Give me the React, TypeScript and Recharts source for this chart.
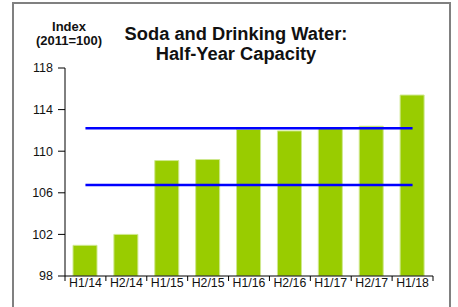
import React from 'react';
import { ComposedChart, Bar, Line, XAxis, YAxis } from 'recharts';

const periods = ['H1/14', 'H2/14', 'H1/15', 'H2/15', 'H1/16', 'H2/16', 'H1/17', 'H2/17', 'H1/18'];
const capacity = [100.95, 102.0, 109.1, 109.2, 112.1, 111.95, 112.2, 112.4, 115.4];
const upperBand = [112.2, 112.2, 112.2, 112.2, 112.2, 112.2, 112.2, 112.2, 112.2];
const lowerBand = [106.75, 106.75, 106.75, 106.75, 106.75, 106.75, 106.75, 106.75, 106.75];
const yTicks = [98, 102, 106, 110, 114, 118];

const data = periods.map((p, i) => ({
  period: p,
  capacity: capacity[i],
  upper: upperBand[i],
  lower: lowerBand[i],
}));

const W = 458;
const H = 307;
const MARGIN = { top: 68, right: 25, bottom: 6, left: 13 };
const Y_AXIS_W = 52;
const PLOT_W = W - MARGIN.left - MARGIN.right - Y_AXIS_W;
const HALF_BAND = PLOT_W / periods.length / 2;
const FONT = 'Arial, "Liberation Sans", sans-serif';

const XTick = (props: any) => {
  const { x, y, payload, index } = props;
  const last = index === periods.length - 1;
  const axisY = y - 2;
  return (
    <g>
      <line x1={x - HALF_BAND} x2={x - HALF_BAND} y1={axisY} y2={axisY + 5} stroke="#000" />
      {last && <line x1={x + HALF_BAND} x2={x + HALF_BAND} y1={axisY} y2={axisY + 5} stroke="#000" />}
      <text x={x} y={y} dy="0.71em" textAnchor="middle" fontSize={12.3} fill="#111" fontFamily={FONT}>
        {payload.value}
      </text>
    </g>
  );
};

export default function App() {
  return (
    <div style={{ position: 'absolute', left: 0, top: 0, width: W, height: H, background: '#fff', overflow: 'hidden' }}>
      <div
        style={{
          position: 'absolute',
          left: 12,
          top: 2,
          width: 439,
          height: 320,
          border: '2px solid #808080',
          boxSizing: 'border-box',
        }}
      />
      <svg width={W} height={H} style={{ position: 'absolute', left: 0, top: 0 }}>
        <g fontFamily={FONT} fontWeight="bold" fill="#111" textAnchor="middle">
          <text x={69} y={31} fontSize={13}>Index</text>
          <text x={69} y={45} fontSize={13}>(2011=100)</text>
          <text x={236} y={40} fontSize={18.3}>Soda and Drinking Water:</text>
          <text x={236} y={60} fontSize={18.3}>Half-Year Capacity</text>
        </g>
      </svg>
      <div style={{ position: 'absolute', left: 0, top: 0 }}>
        <ComposedChart width={W} height={H} data={data} margin={MARGIN} style={{ fontFamily: FONT }}>
          <XAxis
            dataKey="period"
            height={25}
            axisLine={{ stroke: '#000' }}
            tickLine={false}
            tickSize={0}
            tickMargin={2}
            interval={0}
            tick={<XTick />}
          />
          <YAxis
            width={Y_AXIS_W}
            domain={[98, 118]}
            ticks={yTicks}
            allowDataOverflow
            axisLine={{ stroke: '#000' }}
            tickLine={{ stroke: '#000' }}
            tickSize={7}
            tickMargin={5}
            tick={{ fill: '#111', fontSize: 12.5 }}
          />
          <Bar dataKey="capacity" fill="#99CC00" stroke="#cfe88f" strokeWidth={1} barSize={24} isAnimationActive={false} />
          <Line dataKey="upper" stroke="#0000FF" strokeWidth={2.5} dot={false} activeDot={false} isAnimationActive={false} />
          <Line dataKey="lower" stroke="#0000FF" strokeWidth={2.5} dot={false} activeDot={false} isAnimationActive={false} />
        </ComposedChart>
      </div>
    </div>
  );
}
